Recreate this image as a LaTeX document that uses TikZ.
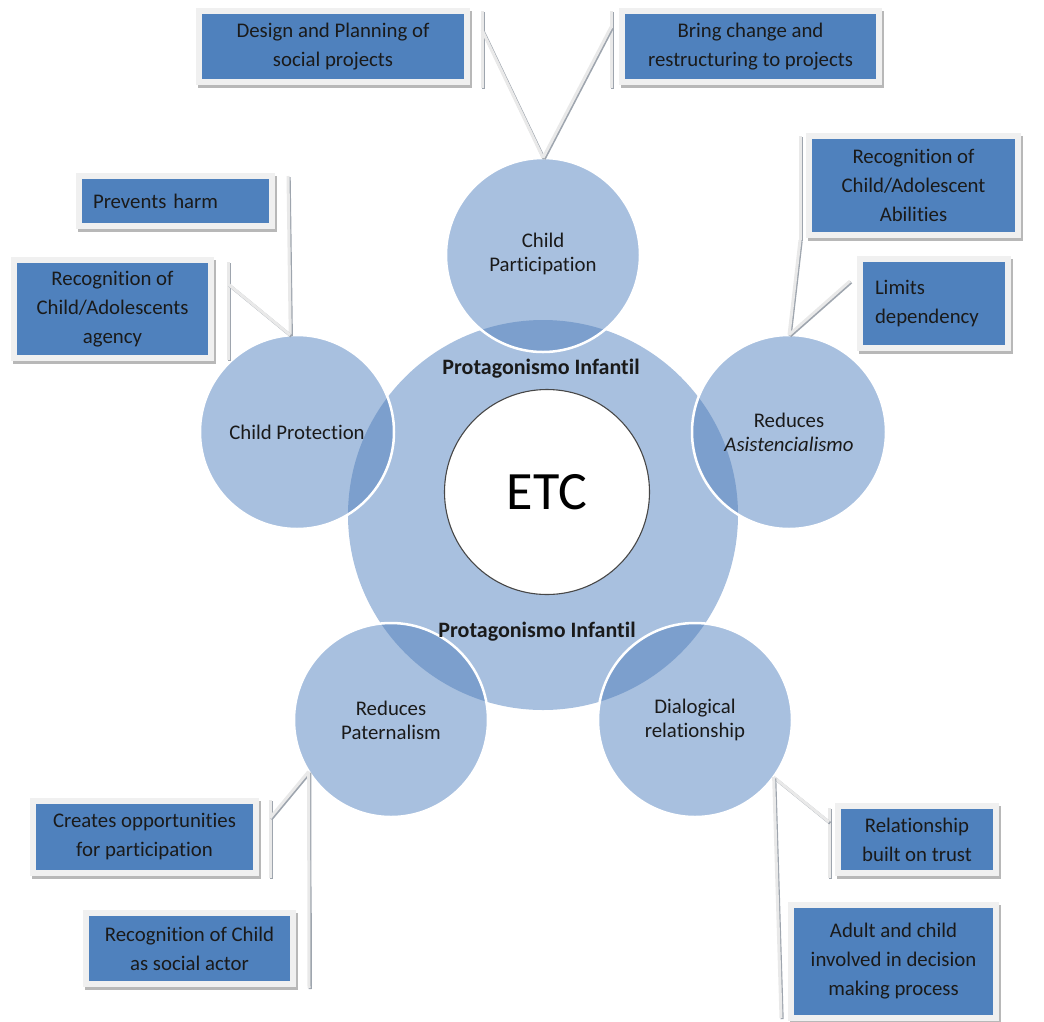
\documentclass[tikz,border=0pt]{standalone}
\usepackage{fontspec}
\setmainfont{Carlito}[Ligatures=NoCommon]
\definecolor{ringfill}{HTML}{A8C0DF}
\definecolor{ringover}{HTML}{7C9FCD}
\definecolor{boxblue}{HTML}{4F81BD}
\definecolor{boxframe}{HTML}{F0F0F0}
\definecolor{leadlight}{HTML}{E9E9E9}
\definecolor{leadedge}{HTML}{9EA5AE}
\definecolor{inktext}{HTML}{1A1A1A}
\begin{document}
\begin{tikzpicture}[x=1pt,y=-1pt,
  ring/.style={circle, minimum size=194pt, inner sep=0pt, fill=ringfill},
  ringtext/.style={align=center, inner sep=0pt, text=inktext, font=\fontsize{20.8}{24}\selectfont},
  hubtext/.style={inner sep=0pt, text=inktext, font=\bfseries\fontsize{22}{26}\selectfont},
  callout/.style={rectangle, fill=boxblue, draw=boxframe, line width=6pt, inner sep=0pt,
    text=inktext, align=center, font=\fontsize{20.8}{29}\selectfont,
    preaction={draw=black!28, fill=black!28, line width=6pt, transform canvas={xshift=1.5pt, yshift=-2.5pt}}},
  leader/.style={line width=3pt, draw=leadlight, line cap=butt,
    preaction={draw=leadedge, line width=3pt, transform canvas={xshift=1.2pt, yshift=-1.2pt}}},
]
\useasboundingbox (0,0) rectangle (1044,1021);

% central hub and the five surrounding circles
\node[circle, fill=ringfill, minimum size=390pt, inner sep=0pt] (hub) at (543,515) {};
\node[ring] (cp)   at (543,255) {};
\node[ring] (asis) at (789,432) {};
\node[ring] (dia)  at (695,720) {};
\node[ring] (pat)  at (391,720) {};
\node[ring] (prot) at (297,432) {};

% darker lens where each circle overlaps the hub
\begin{scope}
  \clip (hub.center) circle (195);
  \foreach \n in {cp,asis,dia,pat,prot}
    \fill[ringover] (\n.center) circle (97);
\end{scope}
\foreach \n in {cp,asis,dia,pat,prot}
  \draw[white, line width=2.5pt] (\n.center) circle (97);

% centre
\node[circle, fill=white, draw=black!72, line width=1.1pt, minimum size=205pt, inner sep=0pt,
      text=black, font=\fontsize{54}{60}\selectfont] (etc) at (547,492) {ETC};

% circle labels
\node[ringtext] (tcp)   at (543,254) {Child\\Participation};
\node[ringtext] (tasis) at (asis) {Reduces\\\textit{Asistencialismo}};
\node[ringtext] (tdia)  at (dia)  {Dialogical\\relationship};
\node[ringtext] (tpat)  at (pat)  {Reduces\\Paternalism};
\node[ringtext] (tprot) at (prot) {Child Protection};
\node[hubtext] (ptop) at (541,369) {Protagonismo Infantil};
\node[hubtext] (pbot) at (537,632) {Protagonismo Infantil};

% callout boxes
\node[callout, minimum width=268pt, minimum height=71pt] (c1) at (333,46.5)
  {Design and Planning of\\social projects};
\node[callout, minimum width=257pt, minimum height=71pt] (c2) at (750.5,46.5)
  {Bring change and\\restructuring to projects};
\node[callout, align=left, inner xsep=14pt, text width=165pt, minimum height=50pt] (c3) at (175.5,201)
  {Prevents harm};
\node[callout, minimum width=197pt, minimum height=98pt] (c4) at (112.5,309)
  {Recognition of\\Child/Adolescents\\agency};
\node[callout, minimum width=209pt, minimum height=99pt] (c5) at (913.5,185.5)
  {Recognition of\\Child/Adolescent\\Abilities};
\node[callout, align=left, inner xsep=15pt, text width=118pt, minimum height=89pt] (c6) at (934,303.5)
  {Limits\\dependency};
\node[callout, minimum width=223pt, minimum height=72pt] (c7) at (144.5,837)
  {Creates opportunities\\for participation};
\node[callout, minimum width=207pt, minimum height=71pt] (c8) at (189.5,948.5)
  {Recognition of Child\\as social actor};
\node[callout, minimum width=158pt, minimum height=67pt] (c9) at (917,839.5)
  {Relationship\\built on trust};
\node[callout, minimum width=205pt, minimum height=113pt] (c10) at (893.5,961.5)
  {Adult and child\\involved in decision\\making process};

% accent bars beside the boxes
\coordinate (b1t) at (482,11);   \coordinate (b1b) at (482,88);  \coordinate (b1l) at (482,30);
\coordinate (b2t) at (611,11);   \coordinate (b2b) at (611,88);  \coordinate (b2l) at (611,27);
\coordinate (b3t) at (288,176);
\coordinate (b4t) at (228,262);  \coordinate (b4b) at (228,360); \coordinate (b4l) at (228,284);
\coordinate (b5t) at (800,136);  \coordinate (b5b) at (800,240);
\coordinate (b6l) at (850,281);
\coordinate (b7t) at (270,800);  \coordinate (b7b) at (270,878); \coordinate (b7l) at (270,818);
\coordinate (b8t) at (309,912);  \coordinate (b8b) at (309,988);
\coordinate (b9t) at (829,808);  \coordinate (b9b) at (829,878); \coordinate (b9l) at (829,822);
\coordinate (b10b) at (781,1018);

\draw[leader] (b1t) -- (b1b);
\draw[leader] (b2t) -- (b2b);
\draw[leader] (b4t) -- (b4b);
\draw[leader] (b5t) -- (b5b);
\draw[leader] (b7t) -- (b7b);
\draw[leader] (b8t) -- (b8b);
\draw[leader] (b9t) -- (b9b);

% leader lines to the circles
\draw[leader] (b1l) -- (cp.north);
\draw[leader] (b2l) -- (cp.north);
\draw[leader] (b3t) -- (prot.94);
\draw[leader] (b4l) -- (prot.94);
\draw[leader] (b5b) -- (asis.north);
\draw[leader] (b6l) -- (asis.north);
\draw[leader] (b7l) -- (pat.212);
\draw[leader] (b8b) -- (pat.212);
\draw[leader] (b9l) -- (dia.324);
\draw[leader] (b10b) -- (dia.324);
\end{tikzpicture}
\end{document}
